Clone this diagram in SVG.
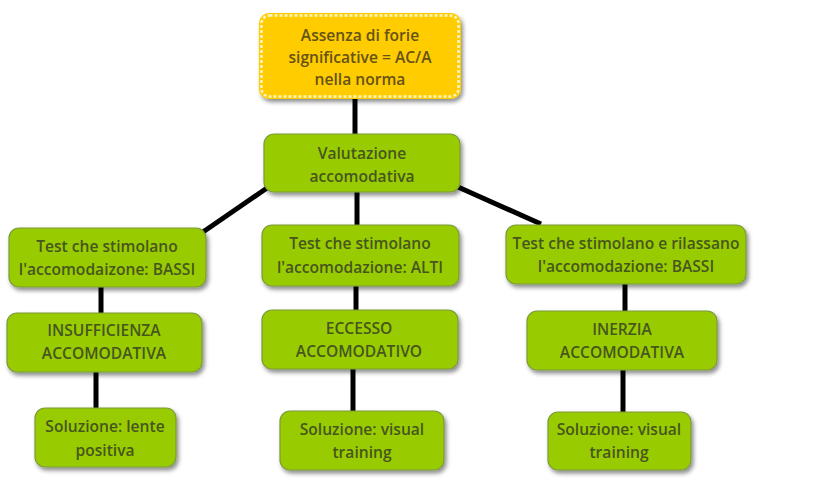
<svg xmlns="http://www.w3.org/2000/svg" width="819" height="485" viewBox="0 0 819 485">
<defs>
<filter id="sh" x="-10%" y="-10%" width="130%" height="140%">
<feDropShadow dx="2" dy="3" stdDeviation="2" flood-color="#000" flood-opacity="0.45"/>
</filter>
<style>
.g{fill:#99cc00;stroke:#7a9a3a;stroke-width:1.2;filter:url(#sh)}
.y{fill:#ffcc00;filter:url(#sh)}
.yd{fill:none;stroke:#fff6c0;stroke-width:2.5;stroke-dasharray:3 2}
text{font-family:"Open Sans","Noto Sans",sans-serif;font-weight:600;font-size:15.6px;text-anchor:middle;dominant-baseline:central}
.t{fill:#46561e}
.ty{fill:#665216}
.c line{stroke:#000;stroke-width:5}
</style>
</defs>
<rect width="819" height="485" fill="#fff"/>
<g class="c" id="connectors">
<line x1="355" y1="99" x2="355" y2="134"/>
<line x1="267" y1="188" x2="203" y2="232"/>
<line x1="357" y1="192" x2="357" y2="225"/>
<line x1="458" y1="187" x2="541" y2="224"/>
<line x1="101" y1="287" x2="101" y2="313"/>
<line x1="96" y1="372" x2="96" y2="408"/>
<line x1="356" y1="286" x2="356" y2="310"/>
<line x1="353" y1="369" x2="353" y2="411"/>
<line x1="625" y1="284" x2="625" y2="311"/>
<line x1="623" y1="370" x2="623" y2="412"/>
</g>
<g id="n1">
<rect class="y" x="259" y="13" width="202" height="86" rx="10"/>
<rect class="yd" x="261.5" y="15.5" width="197" height="81" rx="8"/>
<text class="ty" x="360" y="35">Assenza di forie</text>
<text class="ty" x="360" y="57">significative = AC/A</text>
<text class="ty" x="360" y="79">nella norma</text>
</g>
<g id="n2">
<rect class="g" x="264" y="134" width="196" height="58" rx="10"/>
<text class="t" x="362" y="153">Valutazione</text>
<text class="t" x="362" y="176">accomodativa</text>
</g>
<g id="n3">
<rect class="g" x="9" y="228" width="197" height="59" rx="10"/>
<text class="t" x="107" y="246">Test che stimolano</text>
<text class="t" x="107" y="269">l'accomodaizone: BASSI</text>
</g>
<g id="n4">
<rect class="g" x="7" y="313" width="195" height="59" rx="10"/>
<text class="t" x="104" y="330">INSUFFICIENZA</text>
<text class="t" x="104" y="353">ACCOMODATIVA</text>
</g>
<g id="n5">
<rect class="g" x="35" y="408" width="141" height="59" rx="10"/>
<text class="t" x="105" y="426">Soluzione: lente</text>
<text class="t" x="105" y="450">positiva</text>
</g>
<g id="n6">
<rect class="g" x="262" y="225" width="197" height="61" rx="10"/>
<text class="t" x="360" y="243">Test che stimolano</text>
<text class="t" x="360" y="267">l'accomodazione: ALTI</text>
</g>
<g id="n7">
<rect class="g" x="262" y="310" width="196" height="59" rx="10"/>
<text class="t" x="359" y="328">ECCESSO</text>
<text class="t" x="359" y="351">ACCOMODATIVO</text>
</g>
<g id="n8">
<rect class="g" x="280" y="411" width="164" height="59" rx="10"/>
<text class="t" x="362" y="429">Soluzione: visual</text>
<text class="t" x="362" y="452">training</text>
</g>
<g id="n9">
<rect class="g" x="506" y="225" width="240" height="59" rx="10"/>
<text class="t" x="626" y="243">Test che stimolano e rilassano</text>
<text class="t" x="626" y="266">l'accomodazione: BASSI</text>
</g>
<g id="n10">
<rect class="g" x="527" y="311" width="190" height="59" rx="10"/>
<text class="t" x="622" y="329">INERZIA</text>
<text class="t" x="622" y="352">ACCOMODATIVA</text>
</g>
<g id="n11">
<rect class="g" x="548" y="412" width="143" height="58" rx="10"/>
<text class="t" x="619" y="429">Soluzione: visual</text>
<text class="t" x="619" y="452">training</text>
</g>
</svg>
